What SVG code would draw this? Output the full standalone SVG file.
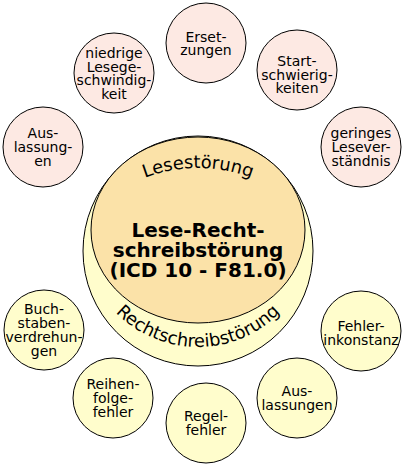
<svg xmlns="http://www.w3.org/2000/svg" width="405" height="468" viewBox="0 0 405 468">
<style>
.pk{fill:#fde9e3;stroke:#000;stroke-width:1}
.yl{fill:#fffdcc;stroke:#000;stroke-width:1}
.t{font-family:"DejaVu Sans","Noto Sans",sans-serif;font-size:14px;text-anchor:middle;fill:#000}
.c{font-family:"DejaVu Sans","Noto Sans",sans-serif;font-size:20px;font-weight:bold;text-anchor:middle;fill:#000}
.a{font-family:"DejaVu Sans","Noto Sans",sans-serif;font-size:17.8px;text-anchor:middle;fill:#000}
</style>
<defs>
<path id="arcTop" d="M 48 318 A 150 150 0 0 1 348 318"/>
<path id="arcBot" d="M 83 232 A 115 115 0 0 0 313 232"/>
</defs>
<g id="center">
<circle cx="198" cy="251" r="115" class="yl"/>
<ellipse cx="198" cy="230" rx="107" ry="93" fill="#fbe2a8" stroke="#000" stroke-width="1"/>
<text class="a"><textPath href="#arcTop" startOffset="50%">Lesestörung</textPath></text>
<text class="a"><textPath href="#arcBot" startOffset="50%">Rechtschreibstörung</textPath></text>
<text class="c" x="198" y="237">Lese-Recht-</text>
<text class="c" x="198" y="257">schreibstörung</text>
<text class="c" x="198" y="277">(ICD 10 - F81.0)</text>
</g>
<g id="ersetzungen">
<circle cx="206" cy="43" r="40" class="pk"/>
<text class="t" x="206" y="41.5">Erset-</text>
<text class="t" x="206" y="55.2">zungen</text>
</g>
<g id="lesegeschwindigkeit">
<circle cx="114" cy="73" r="40" class="pk"/>
<text class="t" x="114" y="58">niedrige</text>
<text class="t" x="114" y="71.7">Lesege-</text>
<text class="t" x="114" y="85.4">schwindig-</text>
<text class="t" x="114" y="99.1">keit</text>
</g>
<g id="startschwierigkeiten">
<circle cx="297" cy="70" r="40" class="pk"/>
<text class="t" x="297" y="66">Start-</text>
<text class="t" x="297" y="79.7">schwierig-</text>
<text class="t" x="297" y="93.4">keiten</text>
</g>
<g id="auslassungen-lesen">
<circle cx="43" cy="147" r="40" class="pk"/>
<text class="t" x="43" y="138.3">Aus-</text>
<text class="t" x="43" y="152">lassung-</text>
<text class="t" x="43" y="165.7">en</text>
</g>
<g id="leseverstaendnis">
<circle cx="361" cy="147" r="40" class="pk"/>
<text class="t" x="361" y="138.3">geringes</text>
<text class="t" x="361" y="152">Lesever-</text>
<text class="t" x="361" y="165.7">ständnis</text>
</g>
<g id="buchstabenverdrehungen">
<circle cx="44" cy="330" r="40" class="yl"/>
<text class="t" x="44" y="314.4">Buch-</text>
<text class="t" x="44" y="328.1">staben-</text>
<text class="t" x="44" y="341.8">verdrehun-</text>
<text class="t" x="44" y="355.5">gen</text>
</g>
<g id="reihenfolgefehler">
<circle cx="113" cy="398" r="40" class="yl"/>
<text class="t" x="113" y="389.3">Reihen-</text>
<text class="t" x="113" y="403">folge-</text>
<text class="t" x="113" y="416.7">fehler</text>
</g>
<g id="regelfehler">
<circle cx="206" cy="423" r="40" class="yl"/>
<text class="t" x="206" y="421.2">Regel-</text>
<text class="t" x="206" y="434.9">fehler</text>
</g>
<g id="auslassungen-schreiben">
<circle cx="297" cy="398" r="40" class="yl"/>
<text class="t" x="297" y="396.2">Aus-</text>
<text class="t" x="297" y="409.9">lassungen</text>
</g>
<g id="fehlerinkonstanz">
<circle cx="361" cy="331" r="40" class="yl"/>
<text class="t" x="361" y="331">Fehler-</text>
<text class="t" x="361" y="344.7">inkonstanz</text>
</g>
</svg>
